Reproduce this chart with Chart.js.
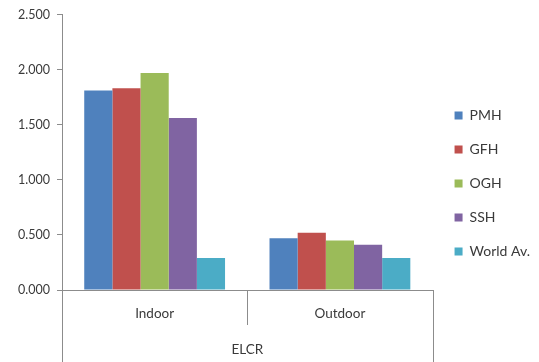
<!DOCTYPE html>
<html>
<head>
<meta charset="utf-8">
<script src="https://cdn.jsdelivr.net/npm/chart.js@4.4.1/dist/chart.umd.min.js"></script>
<style>
  html, body { margin: 0; padding: 0; background: #ffffff; }
  #wrap { width: 539px; height: 362px; }
</style>
</head>
<body>
<div id="wrap"><canvas id="c" width="539" height="362"></canvas></div>
<script>
// Excess lifetime cancer risk (ELCR) by location
const categories = ['Indoor', 'Outdoor'];
const seriesNames = ['PMH', 'GFH', 'OGH', 'SSH', 'World Av.'];
const pmh = [1.81, 0.47];
const gfh = [1.83, 0.52];
const ogh = [1.97, 0.45];
const ssh = [1.56, 0.41];
const worldAv = [0.29, 0.29];
const yTicks = [0, 0.5, 1.0, 1.5, 2.0, 2.5];
const groupTitle = 'ELCR';

const colors = ['#4F81BD', '#C0504D', '#9BBB59', '#8064A2', '#4BACC6'];
const seriesValues = [pmh, gfh, ogh, ssh, worldAv];
const FONT = 'Lato, "Open Sans", sans-serif';
const AXIS = '#8c8c8c';
const TEXT = '#3a3a3a';

// Category divider lines below the axis (two-level category axis)
const dividers = {
  id: 'dividers',
  afterDraw(chart) {
    const x = chart.scales.x;
    const area = chart.chartArea;
    const ctx = chart.ctx;
    const n = categories.length;
    const step = (x.getPixelForValue(1) - x.getPixelForValue(0));
    ctx.save();
    ctx.strokeStyle = AXIS;
    ctx.lineWidth = 1;
    for (let i = 0; i <= n; i++) {
      const px = Math.round(x.getPixelForValue(0) - step / 2 + i * step) + 0.5;
      const end = (i === 0 || i === n) ? chart.height : area.bottom + 35;
      ctx.beginPath();
      ctx.moveTo(px, area.bottom);
      ctx.lineTo(px, end);
      ctx.stroke();
    }
    ctx.restore();
  }
};

// Nudge the legend block slightly right and up
const legendNudge = {
  id: 'legendNudge',
  afterLayout(chart) {
    const lg = chart.legend;
    if (!lg) return;
    lg.left += 2; lg.right += 2;
    lg.top -= 3; lg.bottom -= 3;
  }
};

new Chart(document.getElementById('c'), {
  type: 'bar',
  data: {
    labels: categories,
    datasets: seriesNames.map((name, i) => ({
      label: name,
      data: seriesValues[i],
      backgroundColor: colors[i],
      borderWidth: 0,
      categoryPercentage: 0.76,
      barPercentage: 1.0
    }))
  },
  options: {
    responsive: false,
    animation: false,
    layout: { padding: { top: 11, left: 0, right: 1, bottom: 0 } },
    plugins: {
      tooltip: { enabled: false },
      legend: {
        position: 'right',
        align: 'center',
        labels: {
          boxWidth: 8,
          boxHeight: 8,
          padding: 20,
          color: TEXT,
          font: { family: FONT, size: 14 }
        }
      }
    },
    scales: {
      x: {
        afterFit(scale) { scale.height = 72; },
        grid: { display: false, drawTicks: false },
        border: { display: true, color: AXIS },
        ticks: {
          color: TEXT,
          font: { family: FONT, size: 13.5 },
          padding: 16
        },
        title: {
          display: true,
          text: groupTitle,
          color: TEXT,
          font: { family: FONT, size: 13.5 },
          padding: { top: 20, bottom: 4 }
        }
      },
      y: {
        min: 0,
        max: 2.5,
        afterFit(scale) { scale.width = 62; },
        afterBuildTicks(scale) {
          scale.ticks = yTicks.map(v => ({ value: v }));
        },
        grid: {
          drawOnChartArea: false,
          drawTicks: true,
          tickLength: 5,
          color: AXIS
        },
        border: { display: true, color: AXIS },
        ticks: {
          color: TEXT,
          font: { family: FONT, size: 12.5 },
          padding: 7,
          callback: (v) => Number(v).toFixed(3)
        }
      }
    }
  },
  plugins: [dividers, legendNudge]
});
</script>
</body>
</html>
